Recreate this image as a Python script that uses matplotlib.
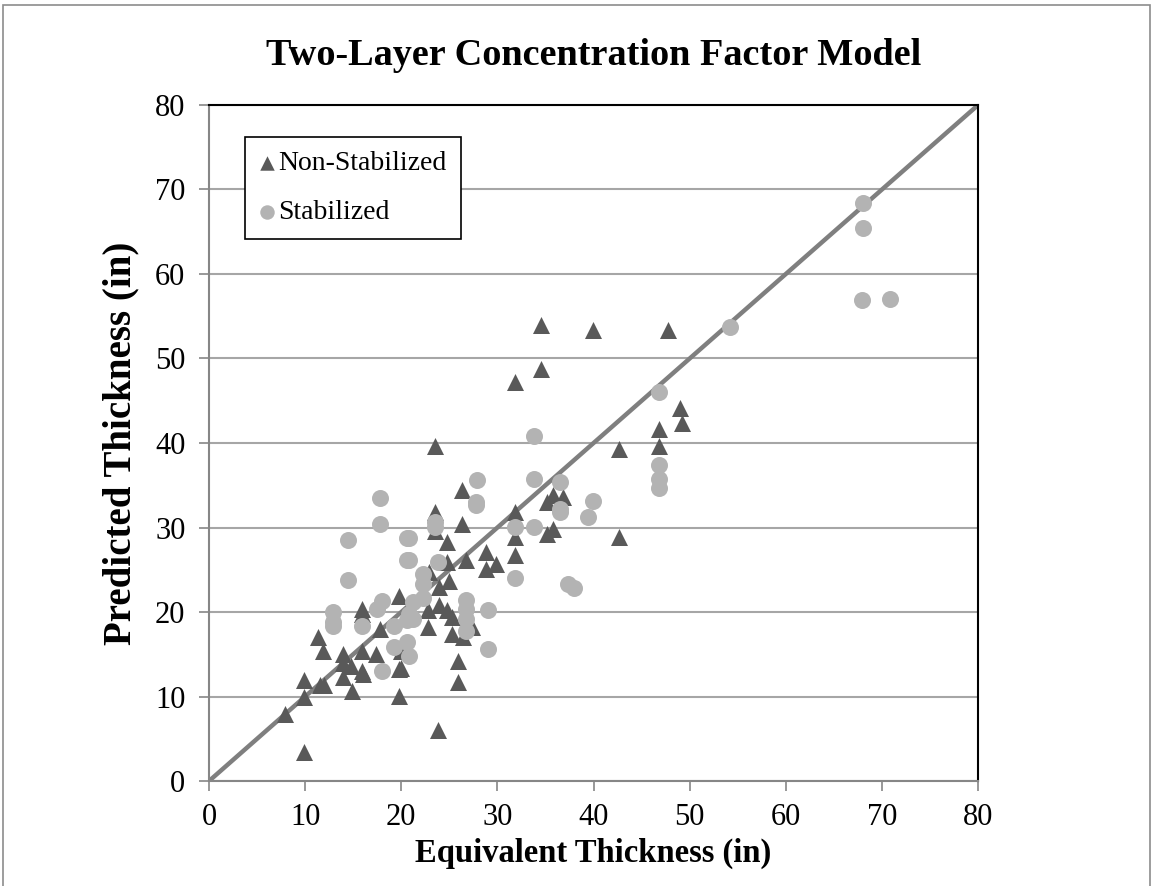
import matplotlib
matplotlib.use("Agg")
import matplotlib.pyplot as plt
from matplotlib.patches import Rectangle

# Non-Stabilized (triangles)
ns_x = [7.9, 9.9, 9.9, 9.9, 11.35, 11.9, 11.5, 12.0, 13.9, 13.9, 13.9, 14.9, 14.8,
        15.9, 15.9, 15.9, 15.9, 16.0, 17.4, 17.8, 19.8, 19.8, 19.8, 20.0, 20.0,
        22.8, 22.9, 23.9, 23.9, 24.8, 25.3, 22.8, 25.3, 26.4, 27.4, 25.9, 25.9,
        23.5, 26.3, 23.5, 23.5, 26.3, 24.8, 24.8, 25.0, 26.7, 28.8, 28.8, 29.9,
        31.8, 31.8, 31.8, 31.8, 35.2, 35.8, 36.8, 35.2, 35.8, 34.5, 34.5, 23.8,
        39.9, 47.7, 49.0, 49.2, 46.8, 46.8, 42.6, 42.6]
ns_y = [7.9, 3.4, 9.9, 11.9, 17.0, 15.4, 11.4, 11.4, 15.0, 14.0, 12.3, 10.6, 13.6,
        20.4, 19.8, 15.4, 13.0, 12.7, 15.0, 18.0, 21.9, 13.2, 10.1, 15.4, 13.4,
        20.2, 24.7, 20.8, 22.9, 20.2, 19.4, 18.2, 17.4, 17.0, 18.2, 14.2, 11.7,
        39.7, 34.4, 31.8, 29.6, 30.4, 28.3, 25.9, 23.7, 26.1, 27.1, 25.1, 25.7,
        47.2, 31.8, 28.9, 26.7, 33.0, 33.8, 33.6, 29.2, 29.8, 54.0, 48.8, 6.0,
        53.4, 53.4, 44.2, 42.4, 41.6, 39.7, 39.3, 28.9]

# Stabilized (circles)
st_x = [17.8, 17.8, 14.5, 14.5, 12.9, 12.9, 12.9, 15.9, 17.95, 17.5, 19.2, 19.2,
        17.95, 20.6, 20.6, 33.8, 27.9, 27.8, 27.8, 33.8, 36.5, 39.9, 36.5, 36.5,
        39.4, 23.5, 23.5, 31.8, 33.8, 20.8, 20.8, 23.8, 31.8, 37.3, 38.0, 22.3,
        22.3, 22.3, 21.2, 20.8, 21.2, 20.6, 26.7, 26.7, 26.7, 26.7, 29.0, 29.0,
        20.6, 20.8, 67.9, 70.8, 54.2, 46.8, 46.8, 46.8, 46.8, 68.0, 68.0]
st_y = [33.5, 30.4, 28.5, 23.8, 20.0, 18.8, 18.4, 18.3, 21.3, 20.4, 18.4, 15.8,
        13.0, 28.7, 26.2, 40.8, 35.6, 33.0, 32.7, 35.7, 35.4, 33.1, 32.2, 31.8,
        31.3, 30.7, 30.1, 30.1, 30.1, 28.7, 26.2, 25.9, 24.0, 23.3, 22.8, 24.5,
        23.3, 21.6, 21.2, 19.8, 19.2, 19.1, 21.4, 20.4, 19.2, 17.8, 20.2, 15.6,
        16.4, 14.8, 56.9, 57.1, 53.7, 46.0, 37.4, 35.7, 34.7, 68.4, 65.5]

line_x = [0, 80]
line_y = [0, 80]
ticks = [0, 10, 20, 30, 40, 50, 60, 70, 80]

plt.rcParams['font.family'] = ['Liberation Serif', 'DejaVu Serif']

fig = plt.figure(figsize=(11.53, 8.86), dpi=100)
ax = fig.add_axes([0.1813, 0.1185, 0.6670, 0.763])

ax.set_xlim(0, 80)
ax.set_ylim(0, 80)
ax.set_xticks(ticks)
ax.set_yticks(ticks)
ax.yaxis.grid(True, color='#a6a6a6', linewidth=1.5, zorder=0)
ax.set_axisbelow(True)

ax.plot(line_x, line_y, color='#7f7f7f', linewidth=3.2, zorder=2, solid_capstyle='butt')
ax.scatter(ns_x, ns_y, marker='^', s=150, color='#595959', zorder=3,
           label='Non-Stabilized', linewidths=0)
ax.scatter(st_x, st_y, marker='o', s=150, color='#b3b3b3', zorder=3,
           label='Stabilized', linewidths=0)

for side in ['top', 'right']:
    ax.spines[side].set_color('black')
    ax.spines[side].set_linewidth(1.5)
for side in ['left', 'bottom']:
    ax.spines[side].set_color('#868686')
    ax.spines[side].set_linewidth(1.5)

ax.tick_params(axis='both', colors='#868686', length=7, width=1.2,
               labelcolor='black', labelsize=22)
ax.tick_params(axis='x', pad=9)
ax.tick_params(axis='y', pad=10)

ax.set_xlabel('Equivalent Thickness (in)', fontsize=23.5, fontweight='bold', labelpad=4)
ax.set_ylabel('Predicted Thickness (in)', fontsize=28, fontweight='bold', labelpad=11)
ax.set_title('Two-Layer Concentration Factor Model', fontsize=27.5, fontweight='bold', pad=29)

leg = ax.legend(loc='upper left', bbox_to_anchor=(0.047, 0.9527), fontsize=20,
                frameon=True, fancybox=False, edgecolor='black', framealpha=1,
                handletextpad=0.1, borderpad=0.5, labelspacing=0.85,
                markerscale=0.85, handlelength=0.6, borderaxespad=0)
leg.get_frame().set_linewidth(1.2)

fig.patches.append(Rectangle((0.003, -0.01), 0.994, 1.004, transform=fig.transFigure,
                             fill=False, edgecolor='#8c8c8c', linewidth=1.2))

fig.savefig('out.png', dpi=100)
